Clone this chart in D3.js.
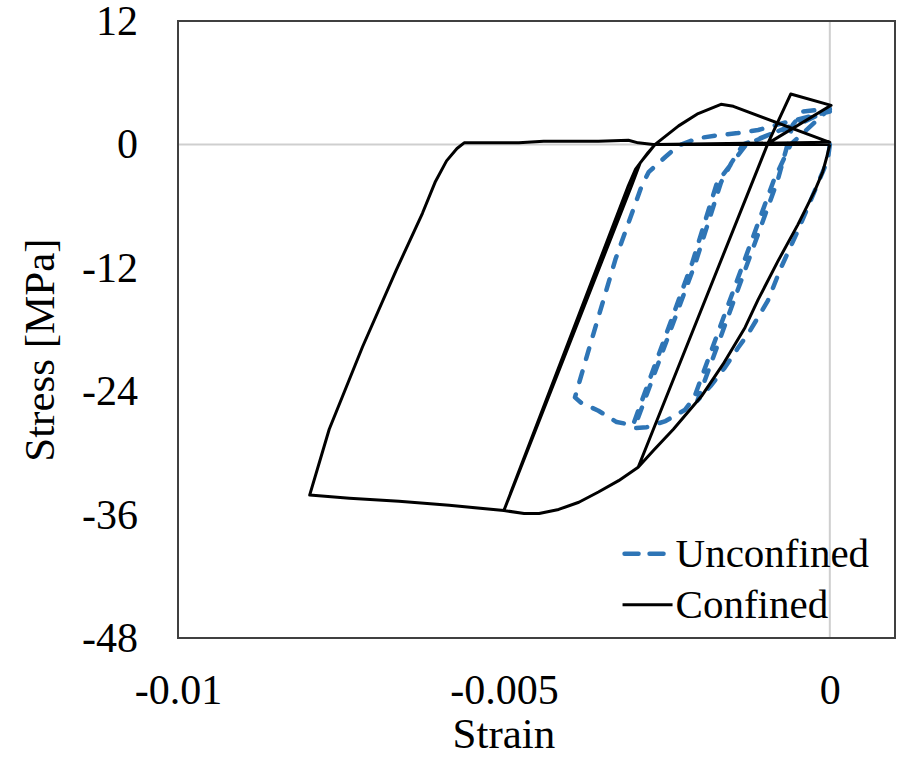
<!DOCTYPE html>
<html>
<head>
<meta charset="utf-8">
<script src="https://cdn.jsdelivr.net/npm/d3@7"></script>
<style>
  body { margin: 0; background: #fff; }
  text { font-family: "Liberation Serif", "Times New Roman", serif; fill: #000; }
</style>
</head>
<body>
<svg id="chart" width="900" height="767"></svg>
<script>
// strain / stress values, in path order
const confinedStrain = [0, -0.00005, -0.00011, -0.00023, -0.00049, -0.0008, -0.0011, -0.0013, -0.00164, -0.00197, -0.0024, -0.00271, -0.00294,
  -0.00095, -0.0006, 0.00002, -0.00095,
  -0.00294, -0.00324, -0.00355, -0.00385, -0.00416, -0.00446, -0.00469, -0.005,
  -0.00304, -0.00291, -0.00278, -0.00268,
  -0.00232, -0.00202, -0.00167, -0.00148, 0,
  -0.00268, -0.00279, -0.00298, -0.00309, -0.005,
  -0.00584, -0.00661, -0.00737, -0.00798,
  -0.00768, -0.00717, -0.00665, -0.00625, -0.00605, -0.00588, -0.00572, -0.00561,
  -0.00477, -0.00439, -0.00355, -0.00309, -0.00294, -0.00271, 0];
const confinedStress = [0, -1.3, -2.7, -4.5, -7.8, -11.4, -15.1, -17.8, -21.4, -24.5, -27.7, -29.8, -31.4,
  0.1, 4.9, 3.8, 0.1,
  -31.4, -32.7, -33.8, -34.8, -35.5, -35.9, -35.9, -35.6,
  -4.0, -1.8, -0.8, 0,
  1.8, 3.0, 3.9, 3.7, 0.2,
  0, -0.8, -2.4, -4.0, -35.6,
  -35.1, -34.7, -34.4, -34.1,
  -27.7, -19.7, -12.2, -6.7, -3.6, -1.6, -0.4, 0.15,
  0.15, 0.3, 0.3, 0.4, 0.15, 0, 0];

const unconfinedStrain = [0, -0.00003, -0.00011, -0.00023, -0.00049, -0.00075, -0.00095, -0.00125, -0.00141, -0.00161, -0.00183, -0.00203,
  -0.0008, -0.00067, -0.00057, -0.00041, 0, -0.0006, -0.00086, -0.00208,
  -0.00222, -0.00252, -0.00281, -0.003,
  -0.00206, -0.00167, -0.00151, -0.00133, -0.00095, -0.00049, 0, -0.00128, -0.00173, -0.00211, -0.00302,
  -0.00327, -0.00355, -0.00382, -0.00391,
  -0.0037, -0.00329, -0.00289, -0.00278, -0.00252, -0.00232, -0.00202, -0.00171, -0.00141, -0.0011, -0.00064, 0];
const unconfinedStress = [0, -1.5, -2.7, -4.5, -8.4, -12.0, -15.2, -18.4, -19.8, -21.7, -23.5, -24.9,
  -3.5, -0.5, 1.9, 3.2, 3.5, 0, -3.5, -24.6,
  -25.8, -26.9, -27.5, -27.6,
  -11.5, -3.7, -1.8, 0, 0.9, 1.9, 3.4, 0, -3.7, -11.5, -27.3,
  -27.0, -25.9, -25.1, -24.6,
  -20.0, -11.2, -4.1, -2.7, -1.2, -0.1, 0.6, 0.9, 1.1, 1.4, 2.2, 3.2];

const xTicks = [-0.01, -0.005, 0];
const yTicks = [12, 0, -12, -24, -36, -48];
const seriesNames = ["Unconfined", "Confined"];

const W = 900, H = 767;
const margin = {top: 21, right: 5, bottom: 129, left: 178};
const iw = W - margin.left - margin.right;
const ih = H - margin.top - margin.bottom;

const svg = d3.select("#chart");
const g = svg.append("g").attr("transform", `translate(${margin.left},${margin.top})`);

const x = d3.scaleLinear().domain([-0.01, 0.001]).range([0, iw]);
const y = d3.scaleLinear().domain([-48, 12]).range([ih, 0]);

// zero lines
g.append("line")
  .attr("x1", 0).attr("x2", iw)
  .attr("y1", y(0)).attr("y2", y(0))
  .attr("stroke", "#cfcfcf").attr("stroke-width", 2);
g.append("line")
  .attr("x1", x(0)).attr("x2", x(0))
  .attr("y1", 0).attr("y2", ih)
  .attr("stroke", "#cfcfcf").attr("stroke-width", 2);

// axes (labels only)
const xAxis = g.append("g")
  .attr("transform", `translate(0,${ih})`)
  .call(d3.axisBottom(x).tickValues(xTicks).tickSize(0).tickPadding(36)
    .tickFormat(d => d === 0 ? "0" : String(d)));
const yAxis = g.append("g")
  .call(d3.axisLeft(y).tickValues(yTicks).tickSize(0).tickPadding(40).tickFormat(d => String(d)));
[xAxis, yAxis].forEach(a => {
  a.select(".domain").remove();
  a.selectAll("text").attr("font-size", 42).attr("font-family", "Liberation Serif").attr("fill", "#000");
});

const line = d3.line()
  .x(d => x(d[0]))
  .y(d => y(d[1]));

const unconfined = unconfinedStrain.map((s, i) => [s, unconfinedStress[i]]);
const confined = confinedStrain.map((s, i) => [s, confinedStress[i]]);

g.append("path")
  .datum(unconfined)
  .attr("d", line)
  .attr("fill", "none")
  .attr("stroke", "#2E75B6")
  .attr("stroke-width", 4.5)
  .attr("stroke-linecap", "round")
  .attr("stroke-linejoin", "round")
  .attr("stroke-dasharray", "11,13");

g.append("path")
  .datum(confined)
  .attr("d", line)
  .attr("fill", "none")
  .attr("stroke", "#000")
  .attr("stroke-width", 3)
  .attr("stroke-linejoin", "round");

// border
g.append("rect")
  .attr("width", iw).attr("height", ih)
  .attr("fill", "none").attr("stroke", "#404040").attr("stroke-width", 2);

// legend
const legend = g.append("g").attr("transform", `translate(${x(-0.00318)},${y(-39.8)})`);
legend.append("line")
  .attr("x1", 2).attr("x2", 50).attr("y1", 0).attr("y2", 0)
  .attr("stroke", "#2E75B6").attr("stroke-width", 4.5)
  .attr("stroke-linecap", "round").attr("stroke-dasharray", "14,11");
legend.append("text").attr("x", 53).attr("y", 0).attr("dy", "0.32em")
  .attr("font-size", 41).text(seriesNames[0]);
legend.append("line")
  .attr("x1", 0).attr("x2", 50).attr("y1", 51).attr("y2", 51)
  .attr("stroke", "#000").attr("stroke-width", 3);
legend.append("text").attr("x", 53).attr("y", 51).attr("dy", "0.32em")
  .attr("font-size", 41).text(seriesNames[1]);

// axis titles
svg.append("text")
  .attr("x", margin.left + x(-0.005)).attr("y", 748)
  .attr("text-anchor", "middle").attr("font-size", 43)
  .text("Strain");
svg.append("text")
  .attr("transform", `translate(54,${margin.top + y(-20)}) rotate(-90)`)
  .attr("text-anchor", "middle").attr("font-size", 43)
  .text("Stress [MPa]");
</script>
</body>
</html>
